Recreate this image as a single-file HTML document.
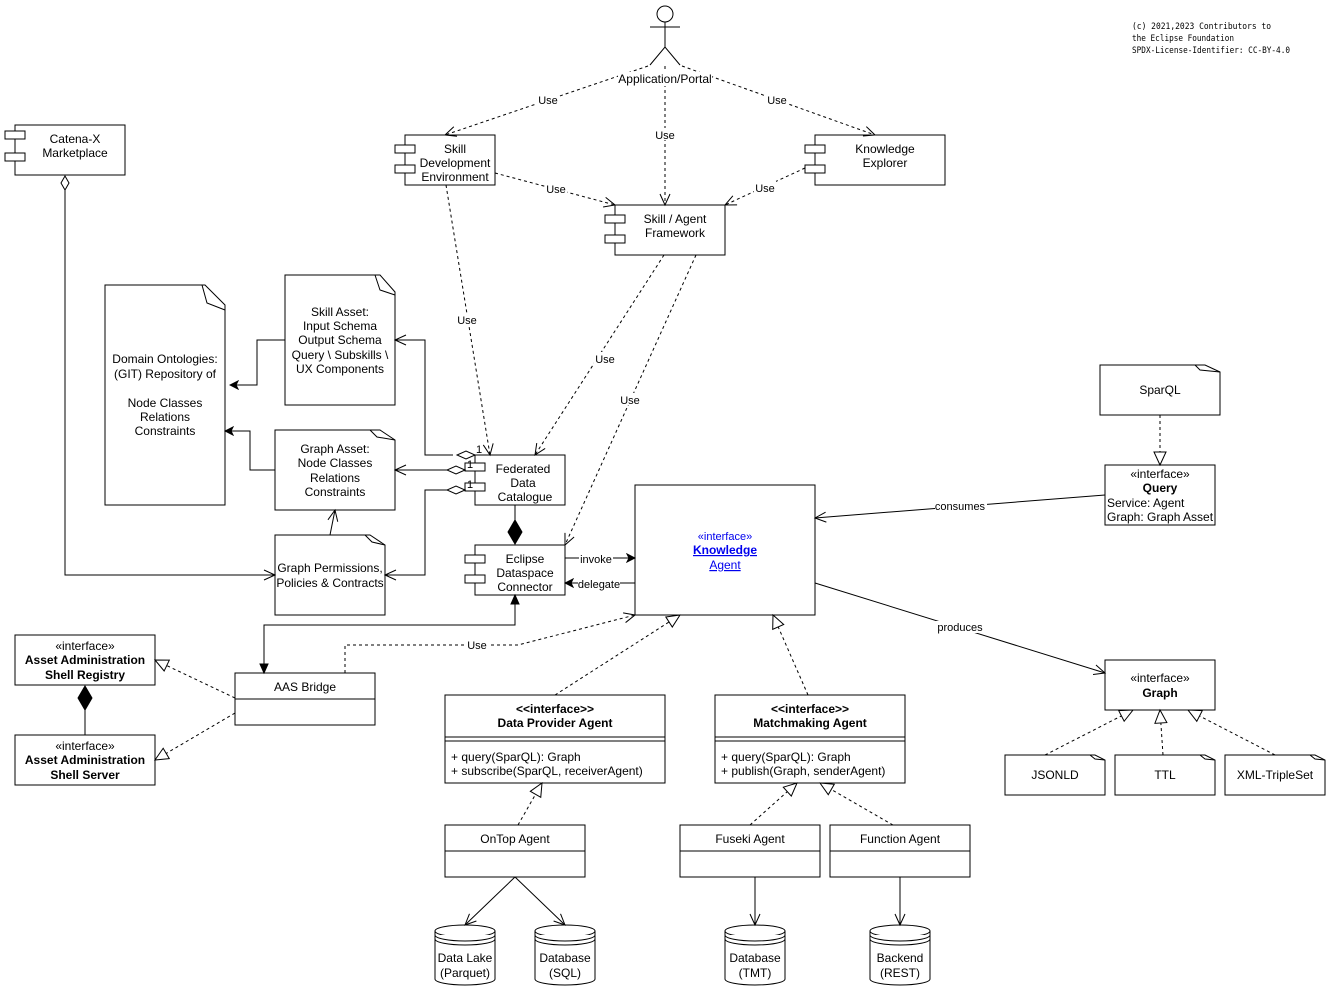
<!DOCTYPE html>
<html><head><meta charset="utf-8"><style>
html,body{margin:0;padding:0;background:#fff;}
svg{display:block;font-family:"Liberation Sans",Arial,sans-serif;}
text{font-size:12px;fill:#000;}
.b{font-weight:bold;}
.s{font-size:11px;}
</style></head><body>
<svg width="1331" height="991" viewBox="0 0 1331 991" xmlns="http://www.w3.org/2000/svg">
<defs>
<marker id="open" markerWidth="14" markerHeight="12" refX="12" refY="6" orient="auto" markerUnits="userSpaceOnUse"><path d="M1,1 L12,6 L1,11" fill="none" stroke="#000" stroke-width="1"/></marker>
<marker id="fill" markerWidth="10" markerHeight="10" refX="9" refY="5" orient="auto" markerUnits="userSpaceOnUse"><path d="M1,1 L9,5 L1,9 L3,5 Z" fill="#000" stroke="#000"/></marker>
<marker id="tri" markerWidth="16" markerHeight="16" refX="14" refY="7" orient="auto" markerUnits="userSpaceOnUse"><path d="M1,1 L14,7 L1,13 Z" fill="#fff" stroke="#000"/></marker>
</defs>
<g fill="none" stroke="#000" stroke-width="1">
<circle cx="665" cy="14" r="8" fill="#fff"/>
<line x1="665" y1="22" x2="665" y2="47"/><line x1="650" y1="27" x2="680" y2="27"/>
<polyline points="650,65 665,47 680,65"/>
<rect x="15" y="125" width="110" height="50" fill="#fff"/>
<rect x="5" y="131" width="20" height="8" fill="#fff"/><rect x="5" y="153" width="20" height="8" fill="#fff"/>
<rect x="405" y="135" width="90" height="50" fill="#fff"/>
<rect x="395" y="145" width="20" height="8" fill="#fff"/><rect x="395" y="165" width="20" height="8" fill="#fff"/>
<rect x="815" y="135" width="130" height="50" fill="#fff"/>
<rect x="805" y="145" width="20" height="8" fill="#fff"/><rect x="805" y="165" width="20" height="8" fill="#fff"/>
<rect x="615" y="205" width="110" height="50" fill="#fff"/>
<rect x="605" y="215" width="20" height="8" fill="#fff"/><rect x="605" y="235" width="20" height="8" fill="#fff"/>
<path d="M105,285 H205 L225,305 V505 H105 Z" fill="#fff"/><path d="M202,285 L207,303 L225,310"/>
<path d="M285,275 H380 L395,292 V405 H285 Z" fill="#fff"/><path d="M375,275 L380,290 L395,295"/>
<path d="M275,430 H380 L395,440 V510 H275 Z" fill="#fff"/><path d="M370,430 L377,437 L395,440"/>
<path d="M275,535 H370 L385,545 V615 H275 Z" fill="#fff"/><path d="M365,535 L372,542 L385,545"/>
<path d="M1100,365 H1205 L1220,372 V415 H1100 Z" fill="#fff"/><path d="M1195,365 L1200,370 L1220,372"/>
<path d="M1005,755 H1095 L1105,760 V795 H1005 Z" fill="#fff"/><path d="M1090,755 L1095,759 L1105,760"/>
<path d="M1115,755 H1205 L1215,760 V795 H1115 Z" fill="#fff"/><path d="M1200,755 L1205,759 L1215,760"/>
<path d="M1225,755 H1315 L1325,760 V795 H1225 Z" fill="#fff"/><path d="M1310,755 L1315,759 L1325,760"/>
<rect x="475" y="455" width="90" height="50" fill="#fff"/>
<rect x="465" y="463" width="20" height="8" fill="#fff"/><rect x="465" y="483" width="20" height="8" fill="#fff"/>
<rect x="475" y="545" width="90" height="50" fill="#fff"/>
<rect x="465" y="555" width="20" height="8" fill="#fff"/><rect x="465" y="575" width="20" height="8" fill="#fff"/>
<rect x="635" y="485" width="180" height="130" fill="#fff"/>
<rect x="1105" y="465" width="110" height="60" fill="#fff"/>
<rect x="1105" y="660" width="110" height="50" fill="#fff"/>
<rect x="15" y="635" width="140" height="50" fill="#fff"/>
<rect x="15" y="735" width="140" height="50" fill="#fff"/>
<rect x="235" y="673" width="140" height="52" fill="#fff"/><line x1="235" y1="699" x2="375" y2="699"/>
<rect x="445" y="695" width="220" height="88" fill="#fff"/><line x1="445" y1="737" x2="665" y2="737"/><line x1="445" y1="741" x2="665" y2="741"/>
<rect x="715" y="695" width="190" height="88" fill="#fff"/><line x1="715" y1="737" x2="905" y2="737"/><line x1="715" y1="741" x2="905" y2="741"/>
<rect x="445" y="825" width="140" height="52" fill="#fff"/><line x1="445" y1="851" x2="585" y2="851"/>
<rect x="680" y="825" width="140" height="52" fill="#fff"/><line x1="680" y1="851" x2="820" y2="851"/>
<rect x="830" y="825" width="140" height="52" fill="#fff"/><line x1="830" y1="851" x2="970" y2="851"/>
<g fill="#fff">
<path d="M435,931 V979 A30,6 0 0 0 495,979 V931"/><ellipse cx="465" cy="931" rx="30" ry="6"/><path d="M435,935 A30,6 0 0 0 495,935 M435,939 A30,6 0 0 0 495,939"/>
<path d="M535,931 V979 A30,6 0 0 0 595,979 V931"/><ellipse cx="565" cy="931" rx="30" ry="6"/><path d="M535,935 A30,6 0 0 0 595,935 M535,939 A30,6 0 0 0 595,939"/>
<path d="M725,931 V979 A30,6 0 0 0 785,979 V931"/><ellipse cx="755" cy="931" rx="30" ry="6"/><path d="M725,935 A30,6 0 0 0 785,935 M725,939 A30,6 0 0 0 785,939"/>
<path d="M870,931 V979 A30,6 0 0 0 930,979 V931"/><ellipse cx="900" cy="931" rx="30" ry="6"/><path d="M870,935 A30,6 0 0 0 930,935 M870,939 A30,6 0 0 0 930,939"/>
</g>
</g>
<g fill="none" stroke="#000" stroke-width="1">
<g stroke-dasharray="3,3">
<line x1="648" y1="66" x2="445" y2="135" marker-end="url(#open)"/>
<line x1="665" y1="66" x2="665" y2="205" marker-end="url(#open)"/>
<line x1="682" y1="66" x2="875" y2="135" marker-end="url(#open)"/>
<line x1="495" y1="173" x2="615" y2="205" marker-end="url(#open)"/>
<line x1="805" y1="168" x2="725" y2="205" marker-end="url(#open)"/>
<line x1="446" y1="185" x2="490" y2="455" marker-end="url(#open)"/>
<line x1="664" y1="255" x2="535" y2="455" marker-end="url(#open)"/>
<line x1="696" y1="255" x2="565" y2="545" marker-end="url(#open)"/>
<polyline points="345,673 345,645 518,645 635,615" marker-end="url(#open)"/>
<line x1="235" y1="698" x2="155" y2="660" marker-end="url(#tri)"/>
<line x1="235" y1="713" x2="155" y2="760" marker-end="url(#tri)"/>
<line x1="555" y1="695" x2="680" y2="615" marker-end="url(#tri)"/>
<line x1="808" y1="695" x2="773" y2="615" marker-end="url(#tri)"/>
<line x1="518" y1="825" x2="542" y2="783" marker-end="url(#tri)"/>
<line x1="750" y1="825" x2="797" y2="783" marker-end="url(#tri)"/>
<line x1="893" y1="825" x2="820" y2="783" marker-end="url(#tri)"/>
<line x1="1160" y1="415" x2="1160" y2="465" marker-end="url(#tri)"/>
<line x1="1045" y1="755" x2="1133" y2="710" marker-end="url(#tri)"/>
<line x1="1163" y1="755" x2="1160" y2="710" marker-end="url(#tri)"/>
<line x1="1275" y1="755" x2="1188" y2="710" marker-end="url(#tri)"/>
</g>
<polyline points="65,190 65,575 275,575" marker-end="url(#open)"/>
<path d="M65,176 L69,183 L65,190 L61,183 Z" fill="#fff"/>
<polyline points="285,340 257,340 257,385 230,385" marker-end="url(#fill)"/>
<polyline points="275,470 250,470 250,431 225,431" marker-end="url(#fill)"/>
<line x1="330" y1="535" x2="335" y2="510" marker-end="url(#open)"/>
<polyline points="453,455 425,455 425,340 395,340" marker-end="url(#open)"/>
<line x1="453" y1="470" x2="395" y2="470" marker-end="url(#open)"/>
<polyline points="453,490 425,490 425,575 385,575" marker-end="url(#open)"/>
<path d="M475,455 L466,459 L457,455 L466,451 Z" fill="#fff"/>
<path d="M465,470 L456,474 L447,470 L456,466 Z" fill="#fff"/>
<path d="M465,490 L456,494 L447,490 L456,486 Z" fill="#fff"/>
<line x1="515" y1="505" x2="515" y2="520"/>
<path d="M515,520 L522,532 L515,544 L508,532 Z" fill="#000"/>
<line x1="565" y1="558" x2="635" y2="558" marker-end="url(#fill)"/>
<line x1="635" y1="583" x2="565" y2="583" marker-end="url(#fill)"/>
<polyline points="264,673 264,625 515,625 515,595" stroke="#000"/>
<path d="M264,673 L260,664 L268,664 Z M515,595 L511,604 L519,604 Z" fill="#000"/>
<line x1="85" y1="710" x2="85" y2="735"/>
<path d="M85,686 L92,698 L85,710 L78,698 Z" fill="#000"/>
<line x1="1105" y1="495" x2="815" y2="518" marker-end="url(#open)"/>
<line x1="815" y1="583" x2="1105" y2="673" marker-end="url(#open)"/>
<line x1="515" y1="877" x2="465" y2="925" marker-end="url(#open)"/>
<line x1="515" y1="877" x2="565" y2="925" marker-end="url(#open)"/>
<line x1="755" y1="877" x2="755" y2="925" marker-end="url(#open)"/>
<line x1="900" y1="877" x2="900" y2="925" marker-end="url(#open)"/>
</g>
<g text-anchor="middle">
<rect x="618" y="72" width="94" height="14" fill="#fff"/>
<text x="665" y="83">Application/Portal</text>
<g class="s">
<rect x="537" y="93" width="22" height="12" fill="#fff"/><text x="548" y="104" class="s">Use</text>
<rect x="654" y="128" width="22" height="12" fill="#fff"/><text x="665" y="139" class="s">Use</text>
<rect x="766" y="93" width="22" height="12" fill="#fff"/><text x="777" y="104" class="s">Use</text>
<rect x="545" y="182" width="22" height="12" fill="#fff"/><text x="556" y="193" class="s">Use</text>
<rect x="754" y="181" width="22" height="12" fill="#fff"/><text x="765" y="192" class="s">Use</text>
<rect x="456" y="313" width="22" height="12" fill="#fff"/><text x="467" y="324" class="s">Use</text>
<rect x="594" y="352" width="22" height="12" fill="#fff"/><text x="605" y="363" class="s">Use</text>
<rect x="619" y="393" width="22" height="12" fill="#fff"/><text x="630" y="404" class="s">Use</text>
<rect x="466" y="638" width="22" height="12" fill="#fff"/><text x="477" y="649" class="s">Use</text>
<rect x="579" y="553" width="34" height="12" fill="#fff"/><text x="596" y="563" class="s">invoke</text>
<rect x="578" y="577" width="42" height="12" fill="#fff"/><text x="599" y="588" class="s">delegate</text>
<rect x="935" y="500" width="52" height="12" fill="#fff"/><text x="960" y="510" class="s">consumes</text>
<rect x="936" y="621" width="50" height="12" fill="#fff"/><text x="960" y="631" class="s">produces</text>
<text x="479" y="453" class="s">1</text><text x="470" y="468" class="s">1</text><text x="470" y="488" class="s">1</text>
</g>
<text x="75" y="143">Catena-X</text><text x="75" y="157">Marketplace</text>
<text x="455" y="153">Skill</text><text x="455" y="167">Development</text><text x="455" y="181">Environment</text>
<text x="885" y="153">Knowledge</text><text x="885" y="167">Explorer</text>
<text x="675" y="223">Skill / Agent</text><text x="675" y="237">Framework</text>
<text x="165" y="363">Domain Ontologies:</text><text x="165" y="378">(GIT) Repository of</text>
<text x="165" y="407">Node Classes</text><text x="165" y="421">Relations</text><text x="165" y="435">Constraints</text>
<text x="340" y="316">Skill Asset:</text><text x="340" y="330">Input Schema</text><text x="340" y="344">Output Schema</text><text x="340" y="359">Query \ Subskills \</text><text x="340" y="373">UX Components</text>
<text x="335" y="453">Graph Asset:</text><text x="335" y="467">Node Classes</text><text x="335" y="482">Relations</text><text x="335" y="496">Constraints</text>
<text x="330" y="572">Graph Permissions,</text><text x="330" y="587">Policies &amp; Contracts</text>
<text x="523" y="473">Federated</text><text x="523" y="487">Data</text><text x="525" y="501">Catalogue</text>
<text x="525" y="563">Eclipse</text><text x="525" y="577">Dataspace</text><text x="525" y="591">Connector</text>
<text x="725" y="540" class="s" style="fill:#0000ee">«interface»</text>
<text x="725" y="554" class="b" style="fill:#0000ee;text-decoration:underline">Knowledge</text>
<text x="725" y="569" style="fill:#0000ee;text-decoration:underline">Agent</text>
<text x="1160" y="394">SparQL</text>
<text x="1160" y="478">«interface»</text><text x="1160" y="492" class="b">Query</text>
<text x="1160" y="682">«interface»</text><text x="1160" y="697" class="b">Graph</text>
<text x="1055" y="779">JSONLD</text><text x="1165" y="779">TTL</text><text x="1275" y="779">XML-TripleSet</text>
<text x="85" y="650">«interface»</text><text x="85" y="664" class="b">Asset Administration</text><text x="85" y="679" class="b">Shell Registry</text>
<text x="85" y="750">«interface»</text><text x="85" y="764" class="b">Asset Administration</text><text x="85" y="779" class="b">Shell Server</text>
<text x="305" y="691">AAS Bridge</text>
<text x="555" y="713" class="b">&lt;&lt;interface&gt;&gt;</text><text x="555" y="727" class="b">Data Provider Agent</text>
<text x="810" y="713" class="b">&lt;&lt;interface&gt;&gt;</text><text x="810" y="727" class="b">Matchmaking Agent</text>
<text x="515" y="843">OnTop Agent</text><text x="750" y="843">Fuseki Agent</text><text x="900" y="843">Function Agent</text>
<text x="465" y="962">Data Lake</text><text x="465" y="977">(Parquet)</text>
<text x="565" y="962">Database</text><text x="565" y="977">(SQL)</text>
<text x="755" y="962">Database</text><text x="755" y="977">(TMT)</text>
<text x="900" y="962">Backend</text><text x="900" y="977">(REST)</text>
</g>
<text x="1107" y="507">Service: Agent</text><text x="1107" y="521">Graph: Graph Asset</text>
<text x="451" y="761">+ query(SparQL): Graph</text><text x="451" y="775">+ subscribe(SparQL, receiverAgent)</text>
<text x="721" y="761">+ query(SparQL): Graph</text><text x="721" y="775">+ publish(Graph, senderAgent)</text>
<g style="font-family:'DejaVu Sans Mono','Liberation Mono',monospace">
<text x="1132" y="29" style="font-size:9px" textLength="139" lengthAdjust="spacingAndGlyphs">(c) 2021,2023 Contributors to</text>
<text x="1132" y="41" style="font-size:9px" textLength="102" lengthAdjust="spacingAndGlyphs">the Eclipse Foundation</text>
<text x="1132" y="53" style="font-size:9px" textLength="158" lengthAdjust="spacingAndGlyphs">SPDX-License-Identifier: CC-BY-4.0</text>
</g>
</svg>
</body></html>
